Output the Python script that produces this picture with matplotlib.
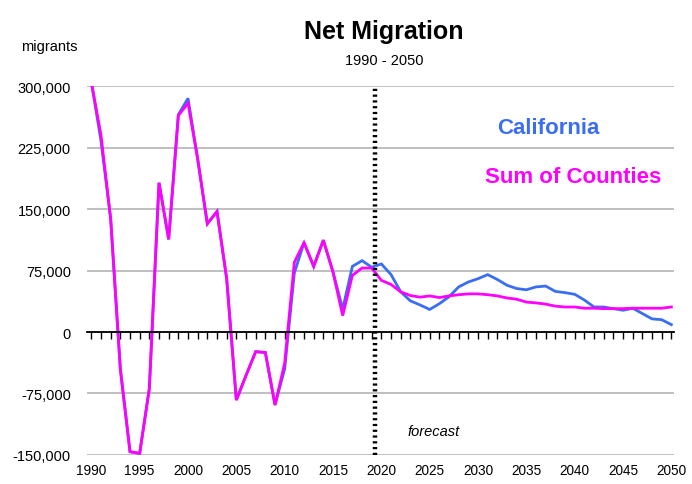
import matplotlib.pyplot as plt
from matplotlib.ticker import FuncFormatter, MultipleLocator

years = list(range(1990, 2051))

# California (blue)
california = [305000, 233000, 138000, -45000, -146000, -148000, -69000, 182000, 113000, 265000,
              285000, 211000, 132000, 147000, 65000, -83000, -53000, -24000, -25000, -89000,
              -45000, 72000, 109000, 80000, 112000, 73000, 28000, 80000, 87000, 79000,
              83000, 70000, 49000, 38000, 33000, 27500, 34500, 43000, 55000, 61000,
              65000, 70000, 64000, 57000, 53000, 51500, 55000, 56000, 49500, 48000,
              46000, 39000, 30500, 30500, 28500, 26500, 29000, 22500, 16000, 15000,
              9000]

# Sum of Counties (magenta)
counties = [305000, 240000, 138000, -45000, -146000, -148000, -69000, 182000, 113000, 264000,
            279000, 211000, 132000, 147000, 65000, -83000, -53000, -24000, -25000, -89000,
            -38000, 85000, 109000, 80000, 112000, 73000, 20000, 69000, 78000, 78000,
            63000, 58000, 49000, 44500, 42500, 44000, 42000, 44000, 45500, 46500,
            46500, 45500, 44000, 41500, 40000, 36500, 35500, 34000, 31500, 30500,
            30500, 29000, 29000, 28500, 28500, 28500, 29000, 29000, 29000, 29000,
            30500]

forecast_year = 2019.3
plt.rcParams['font.family'] = ['Liberation Sans', 'DejaVu Sans']

fig = plt.figure(figsize=(6.92, 4.85), dpi=100)
ax = fig.add_axes([0.1264, 0.0598, 0.848, 0.7608])

ax.plot(years, california, color='#3A6EF2', linewidth=2.0, solid_joinstyle='miter')
ax.plot(years, counties, color='#FF00FF', linewidth=2.0, solid_joinstyle='miter')
ax.axvline(forecast_year, color='black', linewidth=3.2, linestyle=(0, (0.5, 0.8)))

ax.set_xlim(1989.6, 2050.3)
ax.set_ylim(-150000, 300000)

# gridlines and axes
ax.yaxis.set_major_locator(MultipleLocator(75000))
ax.yaxis.set_major_formatter(FuncFormatter(lambda v, p: f'{int(v):,}'))
ax.grid(axis='y', color='#b4b4b4', linewidth=1.2)
ax.set_axisbelow(True)
for s in ['left', 'right', 'top']:
    ax.spines[s].set_visible(False)
ax.spines['bottom'].set_position(('data', 0))
ax.spines['bottom'].set_linewidth(1.3)
ax.tick_params(axis='y', length=0, labelsize=10.5, pad=12)

ax.xaxis.set_major_locator(MultipleLocator(1))
ax.tick_params(axis='x', which='major', direction='out', length=5, width=1.0, labelbottom=False)

sec = ax.secondary_xaxis(0)
sec.xaxis.set_major_locator(MultipleLocator(5))
sec.tick_params(length=0, labelsize=9.8, pad=6)
sec.spines['bottom'].set_visible(False)

# text
fig.text(0.555, 0.935, 'Net Migration', ha='center', va='center', fontsize=18, fontweight='bold')
fig.text(0.555, 0.875, '1990 - 2050', ha='center', va='center', fontsize=10.5)
fig.text(0.03, 0.903, 'migrants', ha='left', va='center', fontsize=10.5)
ax.text(2032.0, 250000, 'California', color='#3A6EF2', fontsize=16, fontweight='bold', ha='left', va='center')
ax.text(2030.7, 190000, 'Sum of Counties', color='#FF00FF', fontsize=16, fontweight='bold', ha='left', va='center')
ax.text(2022.7, -121000, 'forecast', fontsize=10.5, style='italic', ha='left', va='center')

fig.savefig('out.png', dpi=100)
